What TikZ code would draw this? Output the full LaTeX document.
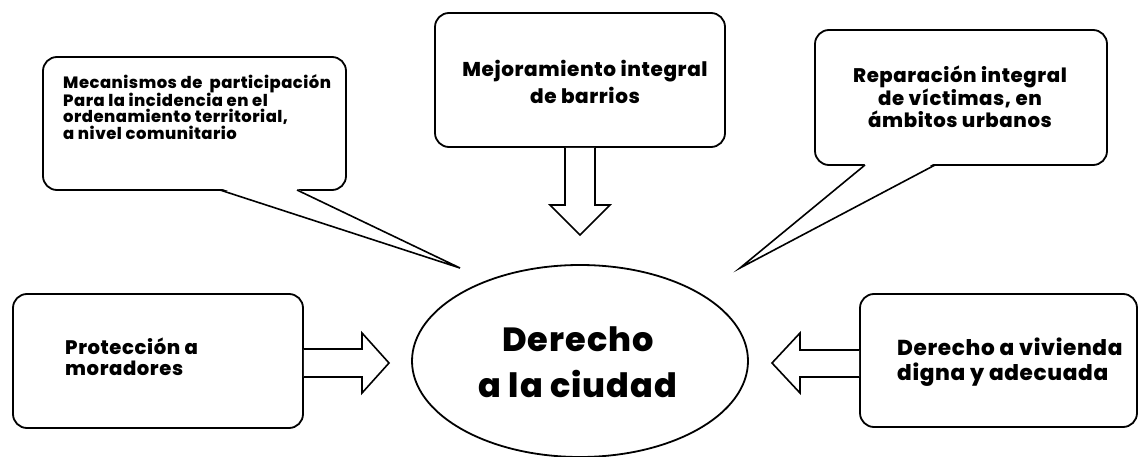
\documentclass[tikz,border=0pt]{standalone}
\usepackage{fontspec}
\setmainfont{Poppins}[BoldFont={Poppins ExtraBold}, LetterSpace=3]
\usetikzlibrary{calc,shapes.geometric}
\begin{document}
\begin{tikzpicture}[x=1pt,y=-1pt,
  box/.style={draw, rounded corners=14pt, line width=1.8pt, fill=white},
  blockarrow/.style={draw, fill=white, line width=1.6pt, line join=miter},
  tailline/.style={draw, line width=1.6pt, line join=miter},
  txt/.style={inner sep=0pt, font=\bfseries}]
\useasboundingbox (0,0) rectangle (1138,457);

% boxes
\node[box, minimum width=303pt, minimum height=133pt] (mec) at (194.5,123.5) {};
\node[box, minimum width=290pt, minimum height=134pt] (mej) at (580,80) {};
\node[box, minimum width=292pt, minimum height=135pt] (rep) at (961,97.5) {};
\node[box, minimum width=290pt, minimum height=134pt] (prot) at (158,361) {};
\node[box, minimum width=277pt, minimum height=133pt] (viv) at (998.5,360.5) {};
\node[draw, ellipse, line width=1.8pt, minimum width=336pt, minimum height=192pt] (city) at (580,361) {};

% callout tails
\coordinate (mecA) at (220,190);
\coordinate (mecB) at (297,190);
\coordinate (mecTip) at (460,268);
\fill[white] ($(mecA)+(1,-1.5)$) -- ($(mecB)+(-1,-1.5)$) -- (mecTip) -- cycle;
\draw[tailline] (mecA) -- (mecTip) -- (mecB);

\coordinate (repA) at (865,165);
\coordinate (repB) at (935,165);
\coordinate (repTip) at (740,268);
\fill[white] ($(repA)+(1,-1.5)$) -- ($(repB)+(-1,-1.5)$) -- (repTip) -- cycle;
\draw[tailline] (repA) -- (repTip) -- (repB);

% block arrows
\draw[blockarrow] ($(mej.south)+(-15,0)$) -- (565,205) -- (550,205) -- (580,235) -- (610,205) -- (595,205) -- ($(mej.south)+(15,0)$);
\draw[blockarrow] ($(prot.east)+(0,-12)$) -- (362,349) -- (362,333) -- (389,363) -- (362,393) -- (362,377) -- ($(prot.east)+(0,16)$);
\draw[blockarrow] ($(viv.west)+(0,-10.5)$) -- (800,350) -- (800,333) -- (772,363) -- (800,393) -- (800,377) -- ($(viv.west)+(0,16.5)$);

% texts
\node[txt, anchor=west, align=left, font=\bfseries\fontsize{16.4}{16}\selectfont] (mect) at (63,107)
  {Mecanismos de\ \ participación\\Para la incidencia en el\\ordenamiento territorial,\\[1pt]a nivel comunitario};
\node[txt, align=center, font=\bfseries\fontsize{20}{27}\selectfont] (mejt) at (585,82)
  {Mejoramiento integral\\de barrios};
\node[txt, align=center, font=\bfseries\fontsize{19.7}{22}\selectfont] (rept) at (960,97)
  {Reparación integral\\de víctimas, en\\ámbitos urbanos};
\node[txt, anchor=west, align=left, font=\bfseries\fontsize{19.6}{21}\selectfont] (prott) at (65,357)
  {Protección a\\moradores};
\node[txt, anchor=west, align=left, font=\bfseries\fontsize{21.6}{25}\selectfont] (vivt) at (897,362)
  {Derecho a vivienda\\digna y adecuada};
\node[txt, align=center, font=\bfseries\fontsize{33.5}{46}\selectfont] (cityt) at (578,362)
  {Derecho\\a la ciudad};
\end{tikzpicture}
\end{document}
